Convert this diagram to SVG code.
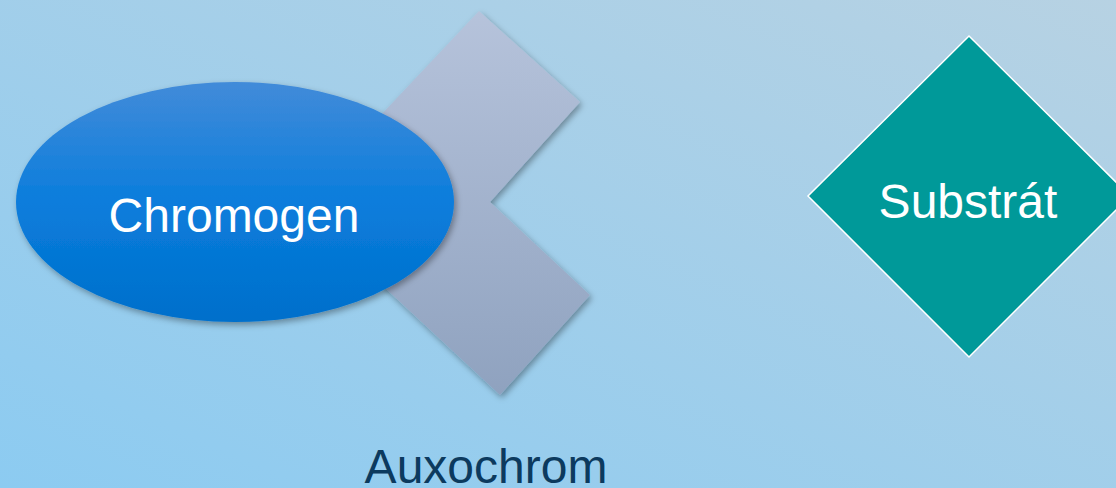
<svg xmlns="http://www.w3.org/2000/svg" width="1116" height="488" viewBox="0 0 1116 488">
  <defs>
    <linearGradient id="bg" x1="0" y1="1" x2="1" y2="0">
      <stop offset="0" stop-color="#8ccbf1"/>
      <stop offset="1" stop-color="#b7d2e3"/>
    </linearGradient>
    <linearGradient id="chev" x1="0" y1="0" x2="0" y2="1">
      <stop offset="0" stop-color="#b6c3db"/>
      <stop offset="1" stop-color="#8fa2bf"/>
    </linearGradient>
    <linearGradient id="ell" x1="0" y1="0" x2="0" y2="1">
      <stop offset="0" stop-color="#428bd9"/>
      <stop offset="0.5" stop-color="#0a7ddc"/>
      <stop offset="1" stop-color="#006fcb"/>
    </linearGradient>
    <filter id="shadow" x="-20%" y="-20%" width="140%" height="140%">
      <feDropShadow dx="2" dy="3" stdDeviation="3" flood-color="#000" flood-opacity="0.35"/>
    </filter>
  </defs>
  <style>
    .lbl { font-family: "Liberation Sans", Arial, sans-serif; font-size: 48px; text-anchor: middle; }
    .white { fill: #ffffff; }
  </style>
  <rect x="0" y="0" width="1116" height="488" fill="url(#bg)"/>
  <g id="auxochrom">
    <polygon points="479,11 580,102 490,202 590,295 500,395 296,205" fill="url(#chev)" filter="url(#shadow)"/>
    <text class="lbl" x="486" y="483" fill="#0c3a5e">Auxochrom</text>
  </g>
  <g id="chromogen">
    <ellipse cx="235" cy="202" rx="219" ry="120" fill="url(#ell)" filter="url(#shadow)"/>
    <text class="lbl white" x="234" y="232">Chromogen</text>
  </g>
  <g id="substrat">
    <polygon points="969,36 1130,196 969,357 808,196" fill="#009999" stroke="#ffffff" stroke-width="1.5"/>
    <text class="lbl white" x="968" y="218">Substrát</text>
  </g>
  <g id="connectors"/>
</svg>
